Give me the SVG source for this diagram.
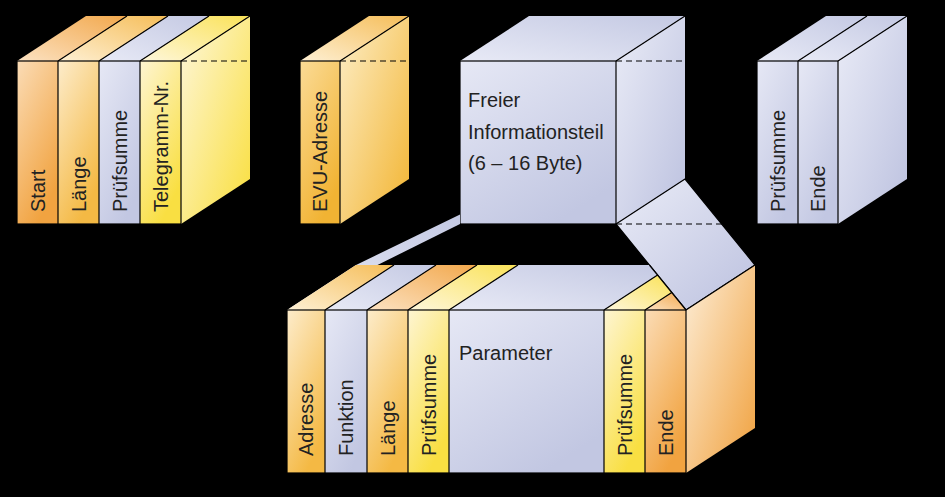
<svg xmlns="http://www.w3.org/2000/svg" width="945" height="497" viewBox="0 0 945 497">
<defs>
<linearGradient id="fBlue" x1="0" y1="0" x2="0.6" y2="1"><stop offset="0" stop-color="#e6e8f5"/><stop offset="1" stop-color="#c2c7e2"/></linearGradient>
<linearGradient id="fYel" x1="0" y1="0" x2="0.5" y2="1"><stop offset="0" stop-color="#fef5d2"/><stop offset="1" stop-color="#f9df42"/></linearGradient>
<linearGradient id="fOra" x1="0" y1="0" x2="0.5" y2="1"><stop offset="0" stop-color="#fbdcb6"/><stop offset="1" stop-color="#f1a340"/></linearGradient>
<linearGradient id="fPea" x1="0" y1="0" x2="0.5" y2="1"><stop offset="0" stop-color="#fdeccb"/><stop offset="1" stop-color="#f4b944"/></linearGradient>
<linearGradient id="fEvu" x1="0" y1="0" x2="0.5" y2="1"><stop offset="0" stop-color="#fbdb96"/><stop offset="1" stop-color="#f1b333"/></linearGradient>
<linearGradient id="tBlue" x1="0" y1="1" x2="1" y2="0"><stop offset="0" stop-color="#e8eaf6"/><stop offset="1" stop-color="#c4c9e3"/></linearGradient>
<linearGradient id="tYel" x1="0" y1="1" x2="1" y2="0"><stop offset="0" stop-color="#fef7dc"/><stop offset="1" stop-color="#fae258"/></linearGradient>
<linearGradient id="tOra" x1="0" y1="1" x2="1" y2="0"><stop offset="0" stop-color="#fce2c2"/><stop offset="1" stop-color="#f2a84c"/></linearGradient>
<linearGradient id="tPea" x1="0" y1="1" x2="1" y2="0"><stop offset="0" stop-color="#fef0d4"/><stop offset="1" stop-color="#f5bd58"/></linearGradient>
<linearGradient id="rYel" x1="0" y1="0" x2="1" y2="1"><stop offset="0" stop-color="#fef7dc"/><stop offset="1" stop-color="#f9de3a"/></linearGradient>
<linearGradient id="rEvu" x1="0" y1="0" x2="1" y2="1"><stop offset="0" stop-color="#fdeec8"/><stop offset="1" stop-color="#f2b430"/></linearGradient>
<linearGradient id="rBlue" x1="0" y1="0" x2="1" y2="1"><stop offset="0" stop-color="#eaecf7"/><stop offset="1" stop-color="#bcc1df"/></linearGradient>
<linearGradient id="rOra" x1="0" y1="0" x2="1" y2="1"><stop offset="0" stop-color="#fdeed8"/><stop offset="1" stop-color="#f0a03c"/></linearGradient>
</defs>
<style>
.ln{fill:none;stroke:#000;stroke-width:1.2}
.ds{fill:none;stroke:#000;stroke-width:1.2;stroke-dasharray:6 4}
.lb{font-family:"Liberation Sans",Arial,sans-serif;font-size:20px;fill:#222}
</style>
<rect x="0" y="0" width="945" height="497" fill="#000"/>

<g id="box-header">
<polygon points="17,61 58,61 127,16 86,16" fill="url(#tOra)"/>
<polygon points="58,61 99,61 168,16 127,16" fill="url(#tPea)"/>
<polygon points="99,61 140,61 209,16 168,16" fill="url(#tBlue)"/>
<polygon points="140,61 181,61 250,16 209,16" fill="url(#tYel)"/>
<polygon points="181,61 250,16 250,179 181,224" fill="url(#rYel)"/>
<rect x="17" y="61" width="41" height="163" fill="url(#fOra)"/>
<rect x="58" y="61" width="41" height="163" fill="url(#fPea)"/>
<rect x="99" y="61" width="41" height="163" fill="url(#fBlue)"/>
<rect x="140" y="61" width="41" height="163" fill="url(#fYel)"/>
<rect class="ln" x="17" y="61" width="164" height="163"/>
<path class="ln" d="M58,61V224M99,61V224M140,61V224M58,61L127,16M99,61L168,16M140,61L209,16M181,61L250,16"/>
<path class="ds" d="M181,61H250"/>
<text class="lb" transform="translate(44.5,212) rotate(-90)">Start</text>
<text class="lb" transform="translate(85.5,212) rotate(-90)">Länge</text>
<text class="lb" transform="translate(126.5,212) rotate(-90)">Prüfsumme</text>
<text class="lb" transform="translate(167.5,212) rotate(-90)">Telegramm-Nr.</text>
</g>

<g id="box-evu">
<polygon points="300,61 340,61 409,16 369,16" fill="url(#tPea)"/>
<polygon points="340,61 409,16 409,179 340,224" fill="url(#rEvu)"/>
<rect x="300" y="61" width="40" height="163" fill="url(#fEvu)"/>
<rect class="ln" x="300" y="61" width="40" height="163"/>
<path class="ln" d="M340,61L409,16"/>
<path class="ds" d="M340,61H409"/>
<text class="lb" transform="translate(327,212) rotate(-90)">EVU-Adresse</text>
</g>

<g id="box-info">
<polygon points="460,61 616,61 685,16 529,16" fill="url(#tBlue)"/>
<polygon points="616,61 685,16 685,179 616,224" fill="url(#rBlue)"/>
<rect x="460" y="61" width="156" height="163" fill="url(#fBlue)"/>
<rect class="ln" x="460" y="61" width="156" height="163"/>
<path class="ln" d="M616,61L685,16"/>
<path class="ds" d="M616,61H685"/>
<text class="lb" x="468" y="107">Freier</text>
<text class="lb" x="468" y="138.5">Informationsteil</text>
<text class="lb" x="468" y="169.5">(6 – 16 Byte)</text>
</g>

<g id="box-end">
<polygon points="757,61 798,61 867,16 826,16" fill="url(#tBlue)"/>
<polygon points="798,61 838,61 907,16 867,16" fill="url(#tBlue)"/>
<polygon points="838,61 907,16 907,179 838,224" fill="url(#rBlue)"/>
<rect x="757" y="61" width="41" height="163" fill="url(#fBlue)"/>
<rect x="798" y="61" width="40" height="163" fill="url(#fBlue)"/>
<rect class="ln" x="757" y="61" width="81" height="163"/>
<path class="ln" d="M798,61V224M798,61L867,16M838,61L907,16"/>
<text class="lb" transform="translate(784.5,212) rotate(-90)">Prüfsumme</text>
<text class="lb" transform="translate(825,212) rotate(-90)">Ende</text>
</g>

<g id="connectors">
<polygon points="287,310 460,224 460,214.5 356,265" fill="url(#tBlue)"/>
<polygon points="616,224 685,179 755,265 686,310" fill="url(#rBlue)" stroke="#000" stroke-width="1.2" stroke-linejoin="round"/>
<path class="ds" d="M616,224H722"/>
</g>

<g id="box-detail">
<polygon points="287,310 325,310 394,265 356,265" fill="url(#tPea)"/>
<polygon points="325,310 367,310 436,265 394,265" fill="url(#tBlue)"/>
<polygon points="367,310 408,310 477,265 436,265" fill="url(#tOra)"/>
<polygon points="408,310 449,310 518,265 477,265" fill="url(#tYel)"/>
<polygon points="449,310 604,310 657.6,275.1 649.4,265 518,265" fill="url(#tBlue)"/>
<polygon points="604,310 645,310 671.8,292.5 657.6,275.1" fill="url(#tYel)"/>
<polygon points="645,310 686,310 671.8,292.5" fill="url(#tOra)"/>
<polygon points="686,310 755,265 755,428 686,473" fill="url(#rOra)"/>
<rect x="287" y="310" width="38" height="163" fill="url(#fPea)"/>
<rect x="325" y="310" width="42" height="163" fill="url(#fBlue)"/>
<rect x="367" y="310" width="41" height="163" fill="url(#fPea)"/>
<rect x="408" y="310" width="41" height="163" fill="url(#fYel)"/>
<rect x="449" y="310" width="155" height="163" fill="url(#fBlue)"/>
<rect x="604" y="310" width="41" height="163" fill="url(#fYel)"/>
<rect x="645" y="310" width="41" height="163" fill="url(#fOra)"/>
<rect class="ln" x="287" y="310" width="399" height="163"/>
<path class="ln" d="M325,310V473M367,310V473M408,310V473M449,310V473M604,310V473M645,310V473M325,310L394,265M367,310L436,265M408,310L477,265M449,310L518,265M604,310L657.6,275.1M645,310L671.8,292.5M649.4,265L686,310M686,310L755,265"/>
<text class="lb" transform="translate(313,456) rotate(-90)">Adresse</text>
<text class="lb" transform="translate(353,456) rotate(-90)">Funktion</text>
<text class="lb" transform="translate(394.5,456) rotate(-90)">Länge</text>
<text class="lb" transform="translate(435.5,456) rotate(-90)">Prüfsumme</text>
<text class="lb" x="459" y="360">Parameter</text>
<text class="lb" transform="translate(631.5,456) rotate(-90)">Prüfsumme</text>
<text class="lb" transform="translate(672.5,456) rotate(-90)">Ende</text>
</g>
</svg>
